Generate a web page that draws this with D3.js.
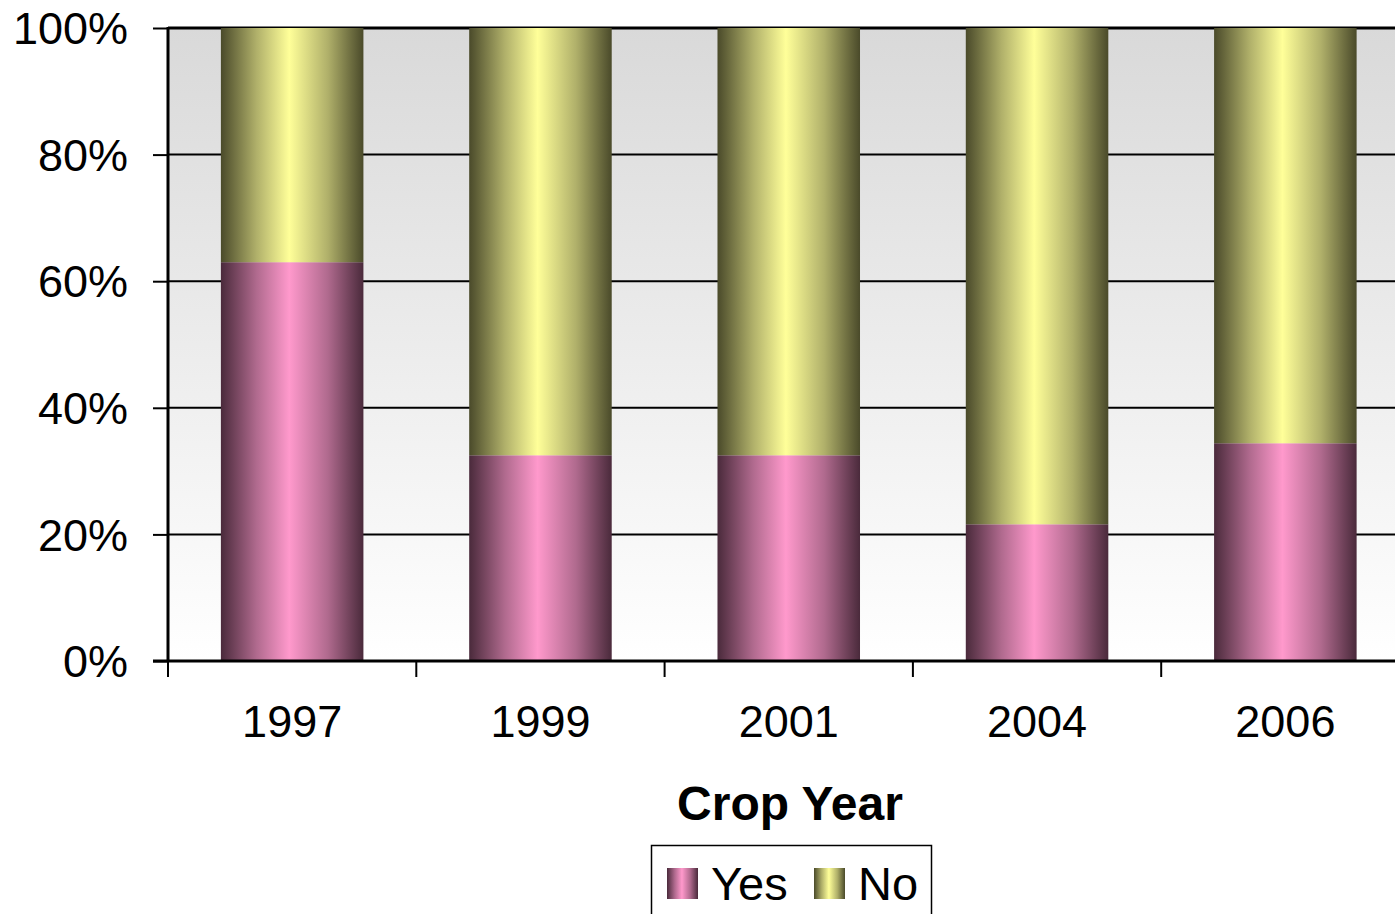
<!DOCTYPE html>
<html>
<head>
<meta charset="utf-8">
<script src="https://cdn.jsdelivr.net/npm/d3@7"></script>
<style>
  html, body { margin: 0; padding: 0; background: #fff; overflow: hidden; }
  svg { display: block; font-family: "Liberation Sans", Arial, sans-serif; }
</style>
</head>
<body>
<svg id="chart" width="1395" height="914"></svg>
<script>
const categories = ["1997", "1999", "2001", "2004", "2006"];
const yesValues = [63.0, 32.5, 32.5, 21.6, 34.4];
const noValues = [37.0, 67.5, 67.5, 78.4, 65.6];
const yTicks = [0, 20, 40, 60, 80, 100];
const seriesNames = ["Yes", "No"];

(function () {
const svg = d3.select("#chart");
const pLeft = 168, pTop = 28, pBottom = 661, pRight = 1409.5;

const x = d3.scaleBand().domain(categories).range([pLeft, pRight])
  .paddingInner(0.426).paddingOuter(0.213);
const y = d3.scaleLinear().domain([0, 100]).range([pBottom, pTop]);

const defs = svg.append("defs");
const bg = defs.append("linearGradient").attr("id", "bg")
  .attr("x1", 0).attr("y1", 0).attr("x2", 0).attr("y2", 1);
bg.append("stop").attr("offset", 0).attr("stop-color", "#d9d9d9");
bg.append("stop").attr("offset", 1).attr("stop-color", "#ffffff");

function barGrad(id, dark, mid, bright) {
  const g = defs.append("linearGradient").attr("id", id)
    .attr("x1", 0).attr("y1", 0).attr("x2", 1).attr("y2", 0);
  g.append("stop").attr("offset", 0).attr("stop-color", dark);
  g.append("stop").attr("offset", 0.25).attr("stop-color", mid);
  g.append("stop").attr("offset", 0.48).attr("stop-color", bright);
  g.append("stop").attr("offset", 0.75).attr("stop-color", mid);
  g.append("stop").attr("offset", 1).attr("stop-color", dark);
}
barGrad("gYes", "#4a2a3b", "#b06a8e", "#ff99cc");
barGrad("gNo", "#4a4a2a", "#b0b06a", "#ffff99");
const fills = { Yes: "url(#gYes)", No: "url(#gNo)" };

svg.append("rect").attr("x", pLeft).attr("y", pTop)
  .attr("width", pRight - pLeft).attr("height", pBottom - pTop)
  .attr("fill", "url(#bg)");

svg.append("g").selectAll("line").data(yTicks.filter(d => d > 0)).join("line")
  .attr("x1", pLeft).attr("x2", pRight)
  .attr("y1", d => y(d)).attr("y2", d => y(d))
  .attr("stroke", "#000").attr("stroke-width", d => d === 100 ? 3 : 2);

const rows = categories.map((c, i) => ({ cat: c, Yes: yesValues[i], No: noValues[i] }));
const stack = d3.stack().keys(seriesNames)(rows);
svg.append("g").selectAll("g").data(stack).join("g")
  .attr("fill", d => fills[d.key])
  .selectAll("rect").data(d => d).join("rect")
  .attr("x", d => x(d.data.cat))
  .attr("width", x.bandwidth())
  .attr("y", d => y(d[1]))
  .attr("height", d => y(d[0]) - y(d[1]));

const yAxis = svg.append("g").attr("transform", `translate(${pLeft},0)`)
  .call(d3.axisLeft(y).tickValues(yTicks).tickFormat(d => d + "%").tickSize(15).tickPadding(25));
yAxis.select(".domain").attr("stroke", "#000").attr("stroke-width", 3)
  .attr("d", `M0,${pTop - 1}V${pBottom + 1}`);
yAxis.selectAll(".tick line").attr("stroke", "#000").attr("stroke-width", 2);
yAxis.selectAll(".tick text").attr("font-size", 45).attr("fill", "#000")
  .attr("font-family", "Liberation Sans, Arial, sans-serif").attr("dy", "0.35em");

const xAxis = svg.append("g").attr("transform", `translate(0,${pBottom})`)
  .call(d3.axisBottom(x).tickSize(0).tickPadding(44));
xAxis.select(".domain").remove();
svg.append("line").attr("x1", pLeft - 15).attr("x2", pRight)
  .attr("y1", pBottom).attr("y2", pBottom).attr("stroke", "#000").attr("stroke-width", 3);
const boundaries = categories.map(c => x(c) - x.step() * x.paddingInner() / 2);
svg.append("g").selectAll("line").data(boundaries).join("line")
  .attr("x1", d => d).attr("x2", d => d)
  .attr("y1", pBottom).attr("y2", pBottom + 16)
  .attr("stroke", "#000").attr("stroke-width", 2);
xAxis.selectAll(".tick text").attr("font-size", 45).attr("fill", "#000")
  .attr("font-family", "Liberation Sans, Arial, sans-serif");

svg.append("text").attr("x", 790).attr("y", 820).attr("text-anchor", "middle")
  .attr("font-size", 48).attr("font-weight", "bold").text("Crop Year");

const lg = svg.append("g");
lg.append("rect").attr("x", 651.5).attr("y", 845.5).attr("width", 280).attr("height", 80)
  .attr("fill", "#fff").attr("stroke", "#000").attr("stroke-width", 1.5);
const legendX = [667, 814];
seriesNames.forEach((s, i) => {
  lg.append("rect").attr("x", legendX[i]).attr("y", 868).attr("width", 31).attr("height", 31)
    .attr("fill", fills[s]);
  lg.append("text").attr("x", legendX[i] + 44).attr("y", 900)
    .attr("font-size", 47).attr("fill", "#000").text(s);
});
})();
</script>
</body>
</html>
